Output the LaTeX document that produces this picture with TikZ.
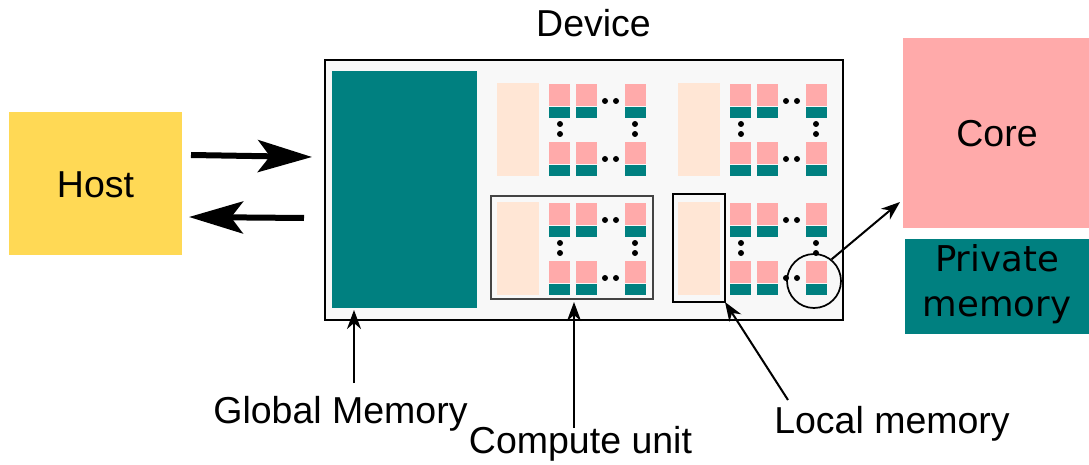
\documentclass[tikz,border=0pt]{standalone}
\usepackage{fontspec}
\setmainfont{Liberation Sans}
\newfontfamily\dejavu{DejaVu Sans}
\usetikzlibrary{arrows.meta}

\definecolor{memteal}{HTML}{008080}
\definecolor{corepink}{HTML}{FFAAAA}
\definecolor{lmpeach}{HTML}{FFE6D5}
\definecolor{devgray}{HTML}{F8F8F8}
\definecolor{hostyellow}{HTML}{FFD955}
\definecolor{cuframe}{HTML}{444444}

\tikzset{
  blk/.style={inner sep=0pt, outer sep=0pt, anchor=north west, draw=none},
  peachbox/.style={blk, fill=lmpeach, minimum width=42pt, minimum height=93pt},
  corebox/.style={blk, fill=corepink, minimum width=21pt, minimum height=22pt},
  pmembox/.style={blk, fill=memteal, minimum width=21pt, minimum height=11pt},
  lbl/.style={font=\fontsize{37.5}{44}\selectfont, inner sep=0pt, anchor=base},
  thinarrow/.style={line width=2pt, -{Stealth[length=19pt,width=14pt,inset=6pt]}},
  fatarrow/.style={line width=6pt, -{Stealth[length=54pt,width=32pt,inset=12pt]}},
  dotmark/.style={fill=black}
}

% one compute unit: local memory block, two rows of cores with private memory, ellipsis dots
\newcommand{\drawcu}[3]{%
  \node[peachbox] (#1-lm) at (#2,#3) {};
  \foreach \cx/\ci in {52/a,79/b,128/c}{
    \foreach \ry/\rj in {1/1,59/2}{
      \node[corebox] (#1-core\ci\rj) at (#2+\cx,#3+\ry) {};
      \node[pmembox] (#1-pm\ci\rj) at (#2+\cx,#3+\ry+23) {};
    }
  }
  \foreach \dx/\dy in {108/18,119/18,108/76,119/76,63/41,63/51,138/41,138/51}{
    \fill[dotmark] (#2+\dx,#3+\dy) circle[radius=3pt];
  }
}

\begin{document}
\begin{tikzpicture}[x=1pt,y=-1pt]
\useasboundingbox (0,0) rectangle (1089,465);

% host
\node[blk, fill=hostyellow, minimum width=173pt, minimum height=143pt] (host) at (9,112) {};
\node[lbl] (hostlbl) at (95.5,197) {Host};

% device frame and global memory
\node[blk, fill=devgray, draw=black, line width=2.3pt, minimum width=518pt, minimum height=260pt] (device) at (325,60) {};
\node[lbl] (devlbl) at (593.5,37) {Device};
\node[blk, fill=memteal, minimum width=145pt, minimum height=237pt] (gm) at (332,71) {};

% compute units
\drawcu{cuA}{497}{83}
\drawcu{cuB}{678}{83}
\drawcu{cuC}{497}{202}
\drawcu{cuD}{678}{202}

% highlighted compute unit, local memory and core
\node[blk, draw=cuframe, line width=1.5pt, minimum width=162pt, minimum height=103pt] (cuframe) at (491,196) {};
\node[blk, draw=black, line width=1.5pt, minimum width=52pt, minimum height=108pt] (lmframe) at (673,194) {};
\node[circle, draw=black, line width=1.7pt, minimum size=54pt, inner sep=0pt] (sel) at (814,281) {};

% core and private memory detail
\node[blk, fill=corepink, minimum width=186pt, minimum height=190pt] (core) at (903,38) {};
\node[lbl] at (997,147) {Core};
\node[blk, fill=memteal, minimum width=184pt, minimum height=95pt] (pmem) at (905,239) {};
\node[inner sep=0pt, align=center, font=\dejavu\fontsize{35.5}{45}\selectfont] (pmemlbl) at (997,284) {Private\\memory};

% host <-> device transfers
\coordinate (toDevA) at (191,155);
\coordinate (toDevB) at (312,157);
\coordinate (toHostA) at (304,218);
\coordinate (toHostB) at (189,217);
\draw[fatarrow] (toDevA) -- (toDevB);
\draw[fatarrow] (toHostA) -- (toHostB);

% labels with pointers
\node[lbl] (gmlbl) at (340.5,423) {Global Memory};
\node[lbl] (culbl) at (580.5,453) {Compute unit};
\node[lbl] (lmlbl) at (892,433) {Local memory};
\coordinate (gmtail) at (354,383);
\coordinate (gmtip) at (354,310);
\coordinate (cutail) at (574,428);
\coordinate (cutip) at (574,302);
\coordinate (lmtail) at (788,400);
\coordinate (coretip) at (900,202);
\draw[thinarrow] (gmtail) -- (gmtip);
\draw[thinarrow] (cutail) -- (cutip);
\draw[thinarrow] (lmtail) -- (lmframe.south east);
\draw[thinarrow] (sel.51) -- (coretip);
\end{tikzpicture}
\end{document}
